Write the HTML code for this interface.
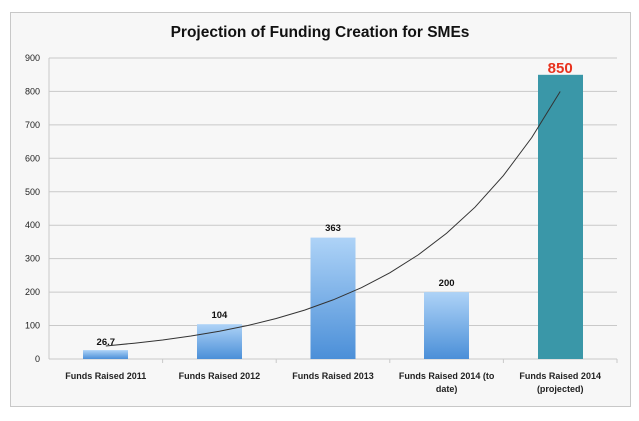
<!DOCTYPE html>
<html><head><meta charset="utf-8"><style>
body{margin:0;background:#fff}
svg{display:block;font-family:"Liberation Sans",sans-serif}
</style></head><body>
<svg width="639" height="421" viewBox="0 0 639 421">
<defs><linearGradient id="g" x1="0" y1="0" x2="0" y2="1"><stop offset="0" stop-color="#aed3f7"/><stop offset="1" stop-color="#4b8fd8"/></linearGradient></defs>
<rect x="10.5" y="12.5" width="620" height="394" fill="#f7f7f7" stroke="#c8c8c8"/>
<text x="320" y="37" text-anchor="middle" font-size="15.5" font-weight="bold" fill="#111">Projection of Funding Creation for SMEs</text>
<g stroke="#c9c9c9" stroke-width="1">
<line x1="49" y1="58" x2="617" y2="58"/><line x1="49" y1="91.4" x2="617" y2="91.4"/><line x1="49" y1="124.9" x2="617" y2="124.9"/><line x1="49" y1="158.3" x2="617" y2="158.3"/><line x1="49" y1="191.8" x2="617" y2="191.8"/><line x1="49" y1="225.2" x2="617" y2="225.2"/><line x1="49" y1="258.6" x2="617" y2="258.6"/><line x1="49" y1="292.1" x2="617" y2="292.1"/><line x1="49" y1="325.5" x2="617" y2="325.5"/><line x1="49" y1="359" x2="617" y2="359"/>
<line x1="49" y1="58" x2="49" y2="359"/>
<line x1="162.6" y1="359" x2="162.6" y2="363"/><line x1="276.2" y1="359" x2="276.2" y2="363"/><line x1="389.8" y1="359" x2="389.8" y2="363"/><line x1="503.4" y1="359" x2="503.4" y2="363"/><line x1="617" y1="359" x2="617" y2="363"/>
</g>
<g font-size="9" fill="#222" text-anchor="end">
<text x="40" y="61">900</text><text x="40" y="94.4">800</text><text x="40" y="127.9">700</text><text x="40" y="161.3">600</text><text x="40" y="194.8">500</text><text x="40" y="228.2">400</text><text x="40" y="261.6">300</text><text x="40" y="295.1">200</text><text x="40" y="328.5">100</text><text x="40" y="362">0</text>
</g>
<rect x="83" y="350.1" width="45" height="8.9" fill="url(#g)"/>
<rect x="197" y="324.2" width="45" height="34.8" fill="url(#g)"/>
<rect x="310.5" y="237.6" width="45" height="121.4" fill="url(#g)"/>
<rect x="424" y="292.1" width="45" height="66.9" fill="url(#g)"/>
<rect x="538" y="74.8" width="45" height="284.2" fill="#3a97a8"/>
<g font-size="9.5" font-weight="bold" fill="#111" text-anchor="middle">
<text x="105.8" y="345">26.7</text><text x="219.4" y="318">104</text><text x="333" y="231">363</text><text x="446.6" y="286">200</text>
</g>
<text x="560.2" y="73" text-anchor="middle" font-size="15" font-weight="bold" fill="#e8321e">850</text>
<polyline fill="none" stroke="#333" stroke-width="1" points="105.8,346 134.2,343.2 162.6,340 191,336 219.4,331.2 247.8,325.5 276.2,318.5 304.6,310.1 333,299.9 361.4,287.7 389.8,272.8 418.2,254.9 446.6,233.3 475,207.2 503.4,175.6 531.8,137.5 560.2,91.5"/>
<g font-size="9" font-weight="bold" fill="#222" text-anchor="middle">
<text x="105.8" y="379">Funds Raised 2011</text><text x="219.4" y="379">Funds Raised 2012</text><text x="333" y="379">Funds Raised 2013</text>
<text x="446.6" y="379">Funds Raised 2014 (to</text><text x="446.6" y="392">date)</text>
<text x="560.2" y="379">Funds Raised 2014</text><text x="560.2" y="392">(projected)</text>
</g>
</svg>
</body></html>
